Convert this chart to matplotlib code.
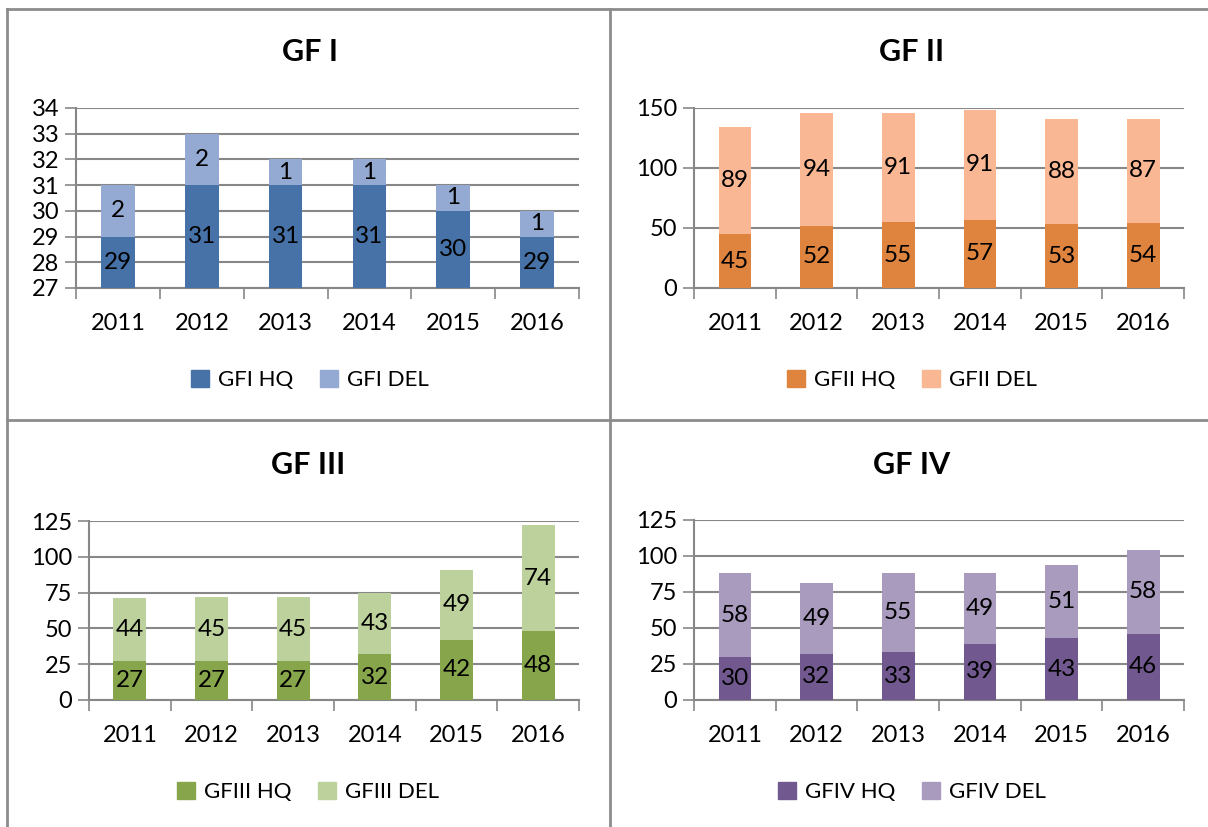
import matplotlib
matplotlib.use("Agg")
import matplotlib.pyplot as plt
from matplotlib.lines import Line2D
from matplotlib.patches import Patch
import numpy as np

plt.rcParams['font.family'] = ['Lato', 'DejaVu Sans']

years = ['2011', '2012', '2013', '2014', '2015', '2016']

gf1_hq = [29, 31, 31, 31, 30, 29]
gf1_del = [2, 2, 1, 1, 1, 1]
gf2_hq = [45, 52, 55, 57, 53, 54]
gf2_del = [89, 94, 91, 91, 88, 87]
gf3_hq = [27, 27, 27, 32, 42, 48]
gf3_del = [44, 45, 45, 43, 49, 74]
gf4_hq = [30, 32, 33, 39, 43, 46]
gf4_del = [58, 49, 55, 49, 51, 58]

W, H = 1208, 827
fig = plt.figure(figsize=(W / 100, H / 100), dpi=100)
grid_c = '#878787'

# panels: title, hq, del, names, colours, y range, y step, axes box (px), panel centre x, title y, legend y
panels = [
    ('GF I', gf1_hq, gf1_del, ('GFI HQ', 'GFI DEL'), ('#4672A8', '#95AAD2'),
     (27, 34), 1, (76, 579, 108, 288), 310, 52, 380),
    ('GF II', gf2_hq, gf2_del, ('GFII HQ', 'GFII DEL'), ('#DE843F', '#F9B793'),
     (0, 150), 50, (694, 1184, 108, 288), 912, 52, 380),
    ('GF III', gf3_hq, gf3_del, ('GFIII HQ', 'GFIII DEL'), ('#87A54A', '#BCD19B'),
     (0, 125), 25, (89, 579, 521, 700), 308, 465, 792),
    ('GF IV', gf4_hq, gf4_del, ('GFIV HQ', 'GFIV DEL'), ('#71588F', '#A99BBE'),
     (0, 125), 25, (694, 1184, 520, 700), 912, 465, 792),
]

x = np.arange(len(years))
for title, hq, dl, names, cols, (y0, y1), step, (l, r, t, b), cx, ty, ly in panels:
    ax = fig.add_axes([l / W, 1 - b / H, (r - l) / W, (b - t) / H])
    ax.bar(x, hq, width=0.4, color=cols[0], zorder=3)
    ax.bar(x, dl, width=0.4, bottom=hq, color=cols[1], zorder=3)
    for xi, h, d in zip(x, hq, dl):
        ax.text(xi, (max(y0, 0) + h) / 2, str(h), ha='center', va='center',
                fontsize=17.5, zorder=4)
        ax.text(xi, h + d / 2, str(d), ha='center', va='center',
                fontsize=17.5, zorder=4)
    ax.set_xlim(-0.5, 5.5)
    ax.set_ylim(y0, y1)
    ax.set_yticks(np.arange(y0, y1 + step / 2, step))
    ax.set_xticks(x)
    ax.set_xticklabels(years)
    ax.set_xticks(np.arange(-0.5, 6, 1), minor=True)
    ax.tick_params(axis='x', which='major', length=0, pad=18, labelsize=17)
    ax.tick_params(axis='x', which='minor', length=8, width=1.2, color=grid_c)
    ax.tick_params(axis='y', length=8, width=1.2, color=grid_c, labelsize=17, pad=4)
    ax.yaxis.grid(True, color=grid_c, linewidth=1.5, zorder=0)
    ax.set_axisbelow(True)
    for s in ('top', 'right'):
        ax.spines[s].set_visible(False)
    for s in ('left', 'bottom'):
        ax.spines[s].set_color(grid_c)
        ax.spines[s].set_linewidth(1.5)
    fig.text(cx / W, 1 - ty / H, title, ha='center', va='center',
             fontsize=22, fontweight='bold')
    handles = [Patch(color=cols[0]), Patch(color=cols[1])]
    fig.legend(handles, names, loc='center', bbox_to_anchor=(cx / W, 1 - ly / H),
               ncol=2, frameon=False, fontsize=16, handlelength=0.8,
               handleheight=0.8, handletextpad=0.4, columnspacing=1.2)

# panel frame lines
frame = [((7, 1208), (9, 9)), ((7, 7), (9, 827)),
         ((610, 610), (9, 827)), ((7, 1208), (420, 420))]
for xs, ys in frame:
    fig.add_artist(Line2D([v / W for v in xs], [1 - v / H for v in ys],
                          color='#8C8C8C', linewidth=2))

fig.savefig('out.png', dpi=100)
